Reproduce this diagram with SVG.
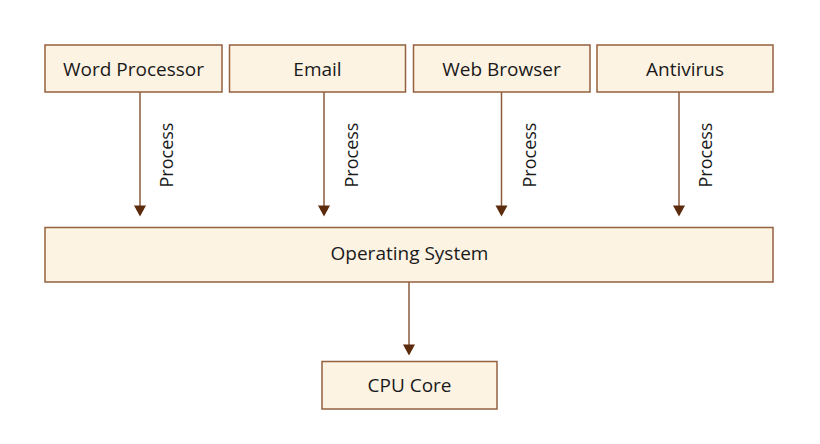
<svg xmlns="http://www.w3.org/2000/svg" width="820" height="444" viewBox="0 0 820 444">
<style>
.box{fill:#fdf3e3;stroke:#93613f;stroke-width:1.5}
.lbl{font-family:"Open Sans","DejaVu Sans",sans-serif;font-size:19px;fill:#1a1a1a;text-anchor:middle}
.proc{font-family:"Open Sans","DejaVu Sans",sans-serif;font-size:18px;fill:#1a1a1a;text-anchor:middle}
.line{stroke:#8b5a3c;stroke-width:1.5;fill:none}
.head{fill:#5c2a0c}
</style>
<rect width="820" height="444" fill="#ffffff"/>
<g id="connectors">
<line class="line" x1="140" y1="92" x2="140" y2="207"/><polygon class="head" points="134,205.5 146,205.5 140,216.5"/>
<line class="line" x1="324" y1="92" x2="324" y2="207"/><polygon class="head" points="318,205.5 330,205.5 324,216.5"/>
<line class="line" x1="501.5" y1="92" x2="501.5" y2="207"/><polygon class="head" points="495.5,205.5 507.5,205.5 501.5,216.5"/>
<line class="line" x1="679" y1="92" x2="679" y2="207"/><polygon class="head" points="673,205.5 685,205.5 679,216.5"/>
<line class="line" x1="409" y1="282" x2="409" y2="346"/><polygon class="head" points="403,344.5 415,344.5 409,355.5"/>
<text class="proc" transform="translate(173,155) rotate(-90)">Process</text>
<text class="proc" transform="translate(357.5,155) rotate(-90)">Process</text>
<text class="proc" transform="translate(535.5,155) rotate(-90)">Process</text>
<text class="proc" transform="translate(711.5,155) rotate(-90)">Process</text>
</g>
<g id="word-processor"><rect class="box" x="45" y="45" width="177" height="47"/><text class="lbl" x="133.5" y="76">Word Processor</text></g>
<g id="email"><rect class="box" x="229.5" y="45" width="176" height="47"/><text class="lbl" x="317.5" y="76">Email</text></g>
<g id="web-browser"><rect class="box" x="413.5" y="45" width="176.5" height="47"/><text class="lbl" x="501.5" y="76">Web Browser</text></g>
<g id="antivirus"><rect class="box" x="597" y="45" width="176" height="47"/><text class="lbl" x="685" y="76">Antivirus</text></g>
<g id="operating-system"><rect class="box" x="45" y="227.5" width="728" height="54.5"/><text class="lbl" x="409.5" y="260">Operating System</text></g>
<g id="cpu-core"><rect class="box" x="322" y="361.5" width="175" height="47.5"/><text class="lbl" x="409.5" y="392">CPU Core</text></g>
</svg>
